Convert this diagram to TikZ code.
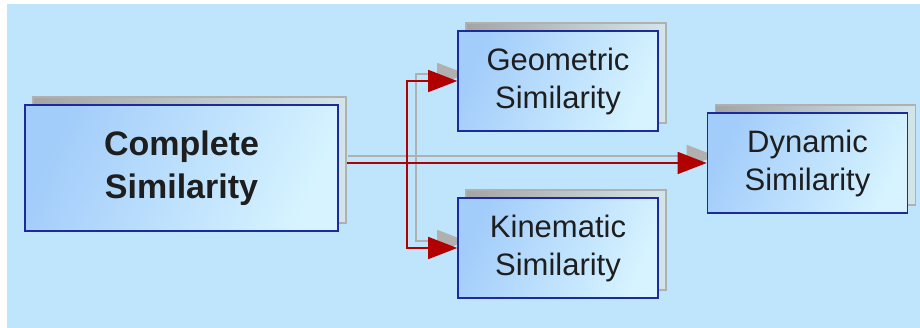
\documentclass[tikz,border=0pt]{standalone}
\usepackage{fontspec}
\setmainfont{Liberation Sans}
\usetikzlibrary{arrows.meta,shadows}
\pgfdeclarelayer{bg}
\pgfdeclarelayer{conn}
\pgfsetlayers{bg,conn,main}
\definecolor{bgblue}{HTML}{BEE5FC}
\definecolor{boxA}{HTML}{A2CCFA}
\definecolor{boxB}{HTML}{D6F3FF}
\definecolor{boxline}{HTML}{1C2A9C}
\definecolor{shadA}{HTML}{A4A4A4}
\definecolor{shadB}{HTML}{D2E6EA}
\definecolor{shadline}{HTML}{B0B0B0}
\definecolor{arrred}{HTML}{B00000}
\definecolor{txt}{HTML}{1E1E1E}
\tikzset{
  box/.style={draw=boxline, line width=1.6pt, rectangle, inner sep=0pt,
    left color=boxA, right color=boxB, shading angle=65,
    align=center, text=txt,
    general shadow={shadow xshift=8pt, shadow yshift=8pt,
      draw=shadline, line width=1.6pt, left color=shadA, right color=shadB}},
  bigbox/.style={box, minimum width=313pt, minimum height=126pt,
    font=\fontsize{34}{43}\selectfont\bfseries},
  smallbox/.style={box, minimum width=200pt, minimum height=100pt,
    font=\fontsize{31}{38}\selectfont},
  conn/.style={draw=arrred, line width=1.5pt,
    -{Triangle[length=29pt,width=22pt]}},
  connshadow/.style={draw=shadline, line width=1.5pt,
    -{Triangle[length=29pt,width=22pt]},
    transform canvas={xshift=9pt,yshift=7pt}}
}
\begin{document}
\begin{tikzpicture}[x=1pt,y=-1pt]
\useasboundingbox (0,0) rectangle (920,328);
\begin{pgfonlayer}{bg}
\fill[bgblue] (7,4) rectangle (920,328);
\end{pgfonlayer}
\node[bigbox] (C) at (181.5,168) {Complete\\Similarity};
\node[smallbox] (G) at (558,81) {Geometric\\Similarity};
\node[smallbox] (K) at (558,248) {Kinematic\\Similarity};
\node[smallbox] (D) at (807.5,163) {Dynamic\\Similarity};
\coordinate (cs) at (C.east |- D.west);
\coordinate (j) at (407,163);
\begin{pgfonlayer}{conn}
\draw[connshadow] (cs) -- (D.west);
\draw[connshadow] (cs) -- (j) |- (G.west);
\draw[connshadow] (cs) -- (j) |- (K.west);
\draw[conn] (cs) -- (D.west);
\draw[conn] (cs) -- (j) |- (G.west);
\draw[conn] (cs) -- (j) |- (K.west);
\end{pgfonlayer}
\end{tikzpicture}
\end{document}
